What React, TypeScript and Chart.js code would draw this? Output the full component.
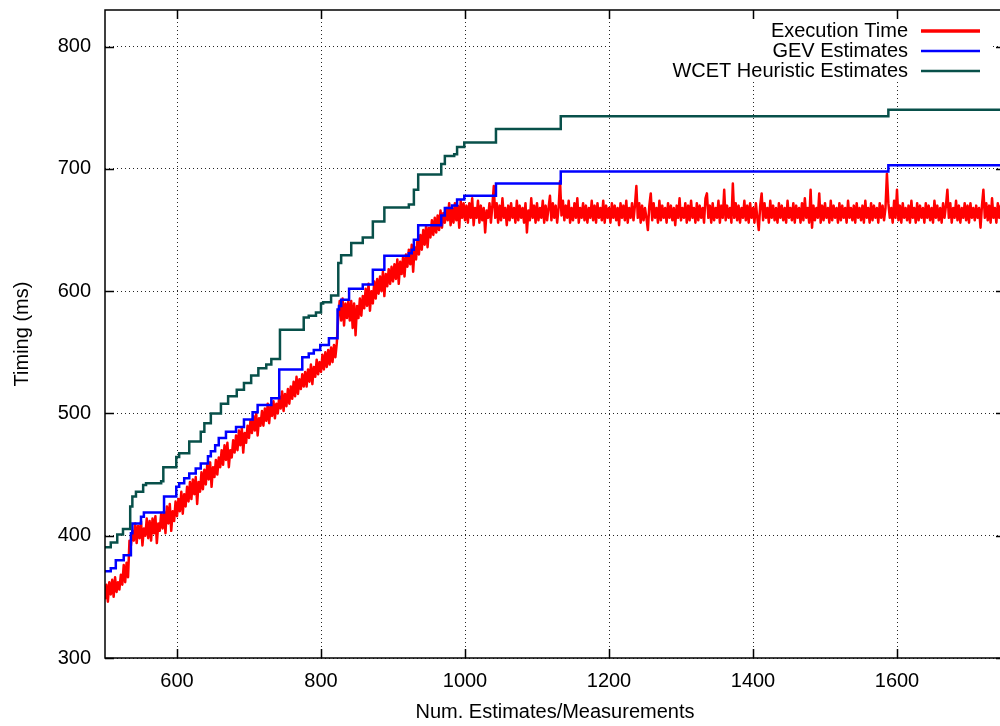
import React, { useEffect, useRef } from 'react';
import { Chart, registerables } from 'chart.js';

Chart.register(...registerables);

// ---- axis ranges and ticks ----
const X_MIN = 500;
const X_MAX = 1750;
const Y_MIN = 300;
const Y_MAX = 830;
const X_TICKS = [600, 800, 1000, 1200, 1400, 1600];
const Y_TICKS = [300, 400, 500, 600, 700, 800];

const X_TITLE = 'Num. Estimates/Measurements';
const Y_TITLE = 'Timing (ms)';

const SERIES_LABELS = ['Execution Time', 'GEV Estimates', 'WCET Heuristic Estimates'];
const SERIES_COLORS = ['#ff0000', '#0000ff', '#08504a'];

// ---- measured execution time (one reading every MEAS_STEP measurements) ----
const MEAS_START = 500;
const MEAS_STEP = 2;
const EXEC_TIME = [
  // 500 - 998
  348, 360, 346, 362, 352, 364, 350, 366, 354, 362,
  356, 368, 360, 376, 362, 378, 366, 396, 392, 404,
  396, 410, 394, 408, 398, 412, 392, 406, 400, 414,
  398, 412, 396, 414, 402, 416, 394, 410, 404, 418,
  406, 420, 402, 424, 410, 426, 404, 420, 412, 428,
  416, 430, 420, 436, 418, 434, 424, 440, 428, 444,
  430, 446, 434, 448, 426, 444, 436, 452, 438, 454,
  442, 458, 446, 460, 440, 456, 448, 462, 450, 464,
  456, 470, 458, 474, 462, 476, 456, 470, 464, 478,
  468, 482, 470, 486, 474, 488, 468, 484, 476, 490,
  480, 494, 484, 498, 486, 500, 482, 496, 490, 502,
  490, 504, 494, 508, 492, 506, 498, 510, 496, 508,
  500, 514, 504, 518, 502, 516, 506, 520, 508, 522,
  512, 526, 514, 530, 516, 528, 520, 532, 522, 534,
  522, 536, 526, 540, 524, 538, 530, 544, 532, 542,
  534, 548, 536, 550, 538, 552, 540, 554, 542, 556,
  546, 558, 580, 592, 576, 594, 572, 590, 578, 592,
  576, 592, 570, 590, 564, 588, 578, 594, 580, 596,
  586, 602, 588, 606, 584, 600, 590, 608, 594, 610,
  598, 612, 600, 616, 596, 614, 604, 618, 606, 620,
  608, 622, 610, 626, 606, 624, 614, 628, 612, 630,
  620, 634, 622, 638, 616, 636, 626, 642, 630, 646,
  634, 650, 638, 654, 636, 652, 644, 658, 646, 660,
  648, 662, 650, 666, 652, 664, 656, 668, 658, 672,
  654, 668, 656, 672, 658, 670, 652, 674, 660, 672,
  // 1000 - 1748
  658, 670, 656, 672, 660, 676, 654, 668, 660, 674,
  656, 670, 658, 668, 648, 666, 660, 672, 656, 670,
  686, 660, 672, 656, 670, 658, 676, 660, 668, 654,
  670, 658, 672, 660, 668, 656, 674, 658, 670, 660,
  668, 656, 672, 648, 666, 658, 676, 660, 670, 656,
  672, 658, 668, 660, 674, 656, 670, 658, 668, 678,
  658, 672, 660, 670, 656, 668, 690, 662, 674, 658,
  670, 660, 674, 656, 668, 658, 672, 660, 676, 656,
  668, 660, 672, 658, 670, 656, 668, 660, 674, 658,
  670, 656, 672, 660, 668, 658, 674, 656, 670, 660,
  668, 656, 672, 660, 670, 658, 668, 654, 672, 660,
  670, 658, 674, 656, 668, 660, 672, 658, 670, 686,
  660, 672, 656, 670, 658, 668, 660, 650, 670, 680,
  658, 672, 660, 668, 656, 674, 658, 670, 660, 668,
  656, 672, 660, 670, 658, 668, 654, 670, 660, 676,
  658, 668, 660, 672, 656, 670, 658, 674, 660, 668,
  656, 672, 658, 670, 660, 668, 656, 676, 680, 660,
  670, 656, 672, 658, 668, 660, 674, 656, 670, 660,
  683, 658, 670, 660, 668, 656, 688, 660, 672, 658,
  670, 656, 668, 660, 674, 658, 670, 656, 672, 660,
  668, 656, 672, 660, 650, 670, 680, 658, 672, 660,
  668, 656, 674, 660, 670, 658, 668, 656, 672, 660,
  670, 658, 668, 656, 674, 660, 668, 658, 672, 656,
  670, 660, 668, 656, 672, 658, 676, 660, 668, 656,
  683, 652, 670, 658, 668, 660, 680, 656, 670, 658,
  672, 660, 668, 656, 674, 658, 670, 660, 668, 656,
  672, 658, 670, 660, 668, 656, 674, 660, 668, 658,
  670, 656, 672, 660, 668, 658, 670, 656, 674, 660,
  668, 656, 672, 658, 670, 660, 668, 656, 672, 660,
  670, 658, 668, 696, 672, 660, 668, 656, 674, 660,
  683, 658, 670, 656, 672, 660, 668, 658, 670, 656,
  674, 660, 668, 656, 672, 658, 670, 660, 668, 656,
  672, 660, 670, 658, 668, 656, 674, 660, 670, 658,
  668, 656, 672, 660, 670, 683, 660, 672, 656, 668,
  660, 674, 658, 670, 656, 668, 660, 672, 658, 670,
  656, 672, 660, 668, 658, 670, 660, 668, 652, 670,
  683, 660, 672, 658, 670, 656, 676, 660, 668, 656,
  672, 660, 670, 658, 668,
];

// ---- GEV estimates (step function: value holds from x onward) ----
const GEV_X = [
  500, 508, 515, 526, 536, 538, 550, 554, 582, 599, 603, 610, 617, 626, 633,
  643, 647, 653, 658, 668, 682, 693, 705, 712, 731, 742, 774, 783, 790, 799,
  811, 823, 825, 828, 839, 858, 872, 888, 922, 926, 929, 935, 967, 972, 982,
  989, 999, 1043, 1133, 1588, 1750,
];
const GEV_Y = [
  371, 373.5, 380, 384, 402, 410, 415.5, 419, 432, 440, 443, 447, 451, 455, 459,
  465, 469, 474, 480, 485, 489, 495, 501, 507, 512.5, 536, 546, 549, 552, 556,
  561.5, 585, 588, 593, 602, 605.5, 617.5, 629, 631, 634, 642, 654, 662, 668, 670,
  675, 678, 688, 698, 703, 703,
];

// ---- WCET heuristic estimates (step function) ----
const WCET_X = [
  500, 508, 517, 525, 535, 538, 543, 553, 557, 578, 581, 599, 603, 617, 633,
  638, 647, 661, 671, 683, 693, 703, 713, 724, 731, 743, 776, 783, 793, 800,
  803, 814, 824, 828, 842, 858, 872, 888, 922, 929, 935, 967, 972, 985, 989,
  999, 1043, 1133, 1588, 1750,
];
const WCET_Y = [
  390.5, 394.5, 401, 405.5, 424, 432, 436, 441.5, 443, 444.5, 456, 464.5, 467.5, 477, 485,
  492, 500, 508, 514, 519.5, 525, 531, 537, 540, 544.5, 568.5, 578.5, 580, 582.5, 590,
  591, 596.5, 623, 629.5, 639.5, 644, 657, 668.5, 671, 683, 695.5, 704, 710.5, 712, 718,
  721.7, 732.6, 743, 748.4, 748.4,
];

const FONT_FAMILY = "'Liberation Sans', Arial, Helvetica, sans-serif";

const gnuplotDecor = {
  id: 'gnuplotDecor',
  afterDatasetsDraw(chart: any) {
    const { ctx } = chart;
    ctx.save();
    // opaque key box
    ctx.fillStyle = '#ffffff';
    ctx.fillRect(612, 19, 380, 60);
    ctx.font = `20px ${FONT_FAMILY}`;
    ctx.textAlign = 'right';
    ctx.textBaseline = 'middle';
    chart.data.datasets.forEach((ds: any, i: number) => {
      const yy = 31 + i * 20;
      ctx.fillStyle = '#000';
      ctx.fillText(ds.label, 908, yy);
      ctx.strokeStyle = ds.borderColor;
      ctx.lineWidth = i === 0 ? 3.5 : ds.borderWidth;
      ctx.beginPath();
      ctx.moveTo(921, yy);
      ctx.lineTo(980, yy);
      ctx.stroke();
    });
    ctx.restore();
  },
  afterDraw(chart: any) {
    const { ctx, chartArea, scales } = chart;
    const { left, right, top, bottom } = chartArea;
    ctx.save();
    ctx.strokeStyle = '#000';
    ctx.lineWidth = 1.5;
    ctx.strokeRect(left, top, right - left, bottom - top);
    ctx.beginPath();
    X_TICKS.forEach((v) => {
      const px = Math.round(scales.x.getPixelForValue(v)) + 0.5;
      ctx.moveTo(px, bottom);
      ctx.lineTo(px, bottom - 9);
      ctx.moveTo(px, top);
      ctx.lineTo(px, top + 9);
    });
    Y_TICKS.forEach((v) => {
      const py = Math.round(scales.y.getPixelForValue(v)) + 0.5;
      ctx.moveTo(left, py);
      ctx.lineTo(left + 9, py);
      ctx.moveTo(right, py);
      ctx.lineTo(right - 9, py);
    });
    ctx.stroke();
    ctx.restore();
  },
};

export default function App() {
  const canvasRef = useRef<HTMLCanvasElement | null>(null);

  useEffect(() => {
    const canvas = canvasRef.current;
    if (!canvas) return;
    Chart.defaults.font.family = FONT_FAMILY;
    Chart.defaults.color = '#000';

    const execData = EXEC_TIME.map((v, i) => ({ x: MEAS_START + i * MEAS_STEP, y: v }));
    const gevData = GEV_X.map((x, i) => ({ x, y: GEV_Y[i] }));
    const wcetData = WCET_X.map((x, i) => ({ x, y: WCET_Y[i] }));

    const chart = new Chart(canvas, {
      type: 'line',
      data: {
        datasets: [
          {
            label: SERIES_LABELS[0],
            data: execData,
            borderColor: SERIES_COLORS[0],
            backgroundColor: SERIES_COLORS[0],
            borderWidth: 2.5,
            pointRadius: 0,
            tension: 0,
            borderJoinStyle: 'round',
            order: 3,
          },
          {
            label: SERIES_LABELS[1],
            data: gevData,
            borderColor: SERIES_COLORS[1],
            backgroundColor: SERIES_COLORS[1],
            borderWidth: 2.5,
            pointRadius: 0,
            stepped: 'before',
            order: 2,
          },
          {
            label: SERIES_LABELS[2],
            data: wcetData,
            borderColor: SERIES_COLORS[2],
            backgroundColor: SERIES_COLORS[2],
            borderWidth: 2.5,
            pointRadius: 0,
            stepped: 'before',
            order: 1,
          },
        ],
      },
      options: {
        animation: false,
        responsive: false,
        maintainAspectRatio: false,
        devicePixelRatio: 1,
        layout: { padding: { top: 10, right: 5, left: 0, bottom: 0 } },
        plugins: {
          legend: { display: false },
          tooltip: { enabled: false },
        },
        scales: {
          x: {
            type: 'linear',
            min: X_MIN,
            max: X_MAX,
            afterBuildTicks: (scale: any) => {
              scale.ticks = X_TICKS.map((v) => ({ value: v }));
            },
            afterFit: (scale: any) => {
              scale.height = 68;
              scale.paddingLeft = 0;
              scale.paddingRight = 0;
            },
            ticks: {
              font: { size: 20 },
              padding: 11,
              maxRotation: 0,
              autoSkip: false,
              color: '#000',
              callback: (v: any) => String(v),
            },
            grid: { color: 'rgba(0,0,0,0.85)', lineWidth: 1, drawTicks: false },
            border: { display: false, dash: [1, 3] },
            title: { display: true, text: X_TITLE, font: { size: 20 }, padding: { top: 0, bottom: 2 }, color: '#000' },
          },
          y: {
            type: 'linear',
            min: Y_MIN,
            max: Y_MAX,
            afterBuildTicks: (scale: any) => {
              scale.ticks = Y_TICKS.map((v) => ({ value: v }));
            },
            afterFit: (scale: any) => {
              scale.width = 105;
              scale.paddingTop = 0;
              scale.paddingBottom = 0;
            },
            ticks: { font: { size: 20 }, padding: 14, color: '#000', callback: (v: any) => String(v) },
            grid: { color: 'rgba(0,0,0,0.85)', lineWidth: 1, drawTicks: false },
            border: { display: false, dash: [1, 3] },
            title: { display: true, text: Y_TITLE, font: { size: 20 }, padding: { top: 10, bottom: 0 }, color: '#000' },
          },
        },
      },
      plugins: [gnuplotDecor],
    } as any);

    return () => chart.destroy();
  }, []);

  return (
    <div style={{ position: 'fixed', left: 0, top: 0, width: 1000, height: 726, overflow: 'hidden', background: '#fff' }}>
      <canvas ref={canvasRef} width={1010} height={726} style={{ display: 'block', width: 1010, height: 726 }} />
    </div>
  );
}
